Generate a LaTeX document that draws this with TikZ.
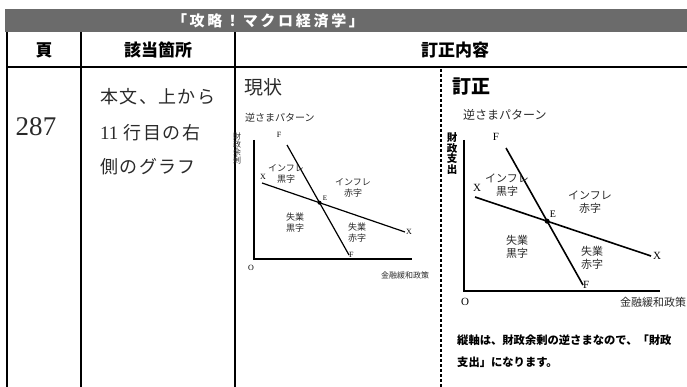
\documentclass[tikz,border=0pt]{standalone}
\usepackage{fontspec}
\setmainfont{Liberation Serif}
\newfontfamily\jp{Noto Sans CJK JP}
\definecolor{titlegray}{HTML}{6B6B6B}
\definecolor{textgray}{HTML}{2A2A2A}
\newcommand\fsz[1]{\fontsize{#1}{#1}\selectfont}
\tikzset{
  tline/.style={line width=1.5pt, black},
  gline/.style={line width=1.2pt, black},
  head/.style={font={\jp\bfseries\fsz{17}}},
  jtxt/.style={font={\jp\fsz{#1}}, text=textgray, align=center, inner sep=0pt},
  ltr/.style={font={\fsz{#1}}, inner sep=0pt}
}

\begin{document}
\begin{tikzpicture}[x=1pt,y=-1pt]
  \useasboundingbox (0,0) rectangle (687,387);
  % title bar
  \fill[titlegray] (5,9) rectangle (687,32);
  \node[font={\jp\bfseries\fsz{15}\addfontfeature{LetterSpace=18}}, text=white] (title) at (268,20.5) {「攻略！マクロ経済学」};
  % table
  \draw[tline] (7,32) -- (7,387) (81,32) -- (81,387) (235,32) -- (235,387);
  \draw[tline] (7,67) -- (687,67);
  \draw[line width=1.5pt, dash pattern=on 3pt off 2pt] (441,69) -- (441,387);
  \node[head] (hpage) at (44,50) {頁};
  \node[head] (hplace) at (158,50) {該当箇所};
  \node[head] (hfix) at (455,50) {訂正内容};
  \node[ltr=27, text=textgray] (page) at (36,127) {287};
  \node[jtxt=18, anchor=west, font={\jp\fsz{18}\addfontfeature{LetterSpace=8}}] (pl1) at (100,97) {本文、上から};
  \node[jtxt=18, anchor=west, font={\jp\fsz{18}\addfontfeature{LetterSpace=8}}] (pl2) at (100,133) {{\rmfamily\fsz{19}11} 行目の右};
  \node[jtxt=18, anchor=west, font={\jp\fsz{18}\addfontfeature{LetterSpace=8}}] (pl3) at (100,167) {側のグラフ};
  \node[jtxt=19] (now) at (263,87) {現状};
  \node[font={\jp\bfseries\fsz{19}}] (fix) at (471,87) {訂正};

  % left graph
  \node[jtxt=10, anchor=west] (ltitle) at (245,118) {逆さまパターン};
  \node[font={\jp\fontsize{8}{8.3}\selectfont}, align=center, inner sep=0pt, text=textgray] (lylab) at (237,148.5) {財\\政\\余\\剰};
  \coordinate (lO) at (254,259);
  \coordinate (lY) at (254,140);
  \coordinate (lXa) at (412,259);
  \coordinate (lF1) at (287,145);
  \coordinate (lF2) at (349,255);
  \coordinate (lX1) at (262,183);
  \coordinate (lX2) at (405,232);
  \coordinate (lE) at (intersection of lF1--lF2 and lX1--lX2);
  \draw[gline] (lY) -- (lO) -- (lXa);
  \draw[gline] (lF1) -- (lF2);
  \draw[gline] (lX1) -- (lX2);
  \fill (lE) circle (2);
  \node[ltr=8] (lFt) at (279,135) {F};
  \node[ltr=8, anchor=west] (lFb) at (lF2) {F};
  \node[ltr=8] (lXl) at (263,177) {X};
  \node[ltr=8, anchor=west] (lXr) at ([xshift=1]lX2) {X};
  \node[ltr=7] (lEl) at (325,198) {E};
  \node[ltr=8] (lOl) at (251,268) {O};
  \node[jtxt=8] (lxlab) at (405,275) {金融緩和政策};
  \node[jtxt=9, font={\jp\fontsize{9}{11}\selectfont}] (lIS) at (286,174) {インフレ\\黒字};
  \node[jtxt=9, font={\jp\fontsize{9}{11}\selectfont}] (lID) at (353,187.5) {インフレ\\赤字};
  \node[jtxt=9, font={\jp\fontsize{9}{11}\selectfont}] (lUS) at (295,223) {失業\\黒字};
  \node[jtxt=9, font={\jp\fontsize{9}{11}\selectfont}] (lUD) at (357,232.5) {失業\\赤字};

  % right graph
  \node[jtxt=12, anchor=west] (rtitle) at (463,115) {逆さまパターン};
  \node[font={\jp\bfseries\fontsize{10.5}{10.8}\selectfont}, align=center, inner sep=0pt] (rylab) at (452,153.5) {財\\政\\支\\出};
  \coordinate (rO) at (464,291);
  \coordinate (rY) at (464,140);
  \coordinate (rXa) at (660,291);
  \coordinate (rF1) at (506,148);
  \coordinate (rF2) at (583,285);
  \coordinate (rX1) at (475,197);
  \coordinate (rX2) at (651,256);
  \coordinate (rE) at (intersection of rF1--rF2 and rX1--rX2);
  \draw[gline, line width=1.6pt] (rY) -- (rO) -- (rXa);
  \draw[gline, line width=1.6pt] (rF1) -- (rF2);
  \draw[gline, line width=1.6pt] (rX1) -- (rX2);
  \fill (rE) circle (2.5);
  \node[ltr=11] (rFt) at (496,137) {F};
  \node[ltr=11, anchor=west] (rFb) at (rF2) {F};
  \node[ltr=11] (rXl) at (477,188) {X};
  \node[ltr=11, anchor=west] (rXr) at ([xshift=2]rX2) {X};
  \node[ltr=10] (rEl) at (553,214) {E};
  \node[ltr=11] (rOl) at (465,302) {O};
  \node[jtxt=11] (rxlab) at (653,302) {金融緩和政策};
  \node[jtxt=11, font={\jp\fontsize{11}{13}\selectfont}] (rIS) at (507,185.5) {インフレ\\黒字};
  \node[jtxt=11, font={\jp\fontsize{11}{13}\selectfont}] (rID) at (590,202.5) {インフレ\\赤字};
  \node[jtxt=11, font={\jp\fontsize{11}{13}\selectfont}] (rUS) at (517,247) {失業\\黒字};
  \node[jtxt=11, font={\jp\fontsize{11}{13}\selectfont}] (rUD) at (592,257.5) {失業\\赤字};

  % note
  \node[font={\jp\bfseries\fsz{11.3}}, anchor=west, inner sep=0pt] (note1) at (457,340) {縦軸は、財政余剰の逆さまなので、「財政};
  \node[font={\jp\bfseries\fsz{11.3}}, anchor=west, inner sep=0pt] (note2) at (457,362) {支出」になります。};
\end{tikzpicture}
\end{document}
